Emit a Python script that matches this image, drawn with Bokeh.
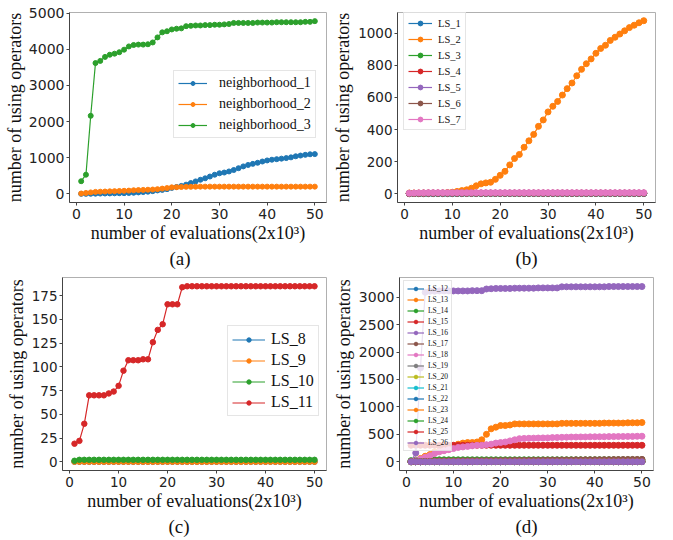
import math
from bokeh.plotting import figure
from bokeh.models import Range1d, FixedTicker, Legend, LegendItem, Title
from bokeh.layouts import column, row
from bokeh.embed import file_html
from bokeh.resources import INLINE

# ---------------- data ----------------
evals = [1, 2, 3, 4, 5, 6, 7, 8, 9, 10, 11, 12, 13, 14, 15, 16, 17, 18, 19, 20,
         21, 22, 23, 24, 25, 26, 27, 28, 29, 30, 31, 32, 33, 34, 35, 36, 37, 38, 39, 40,
         41, 42, 43, 44, 45, 46, 47, 48, 49, 50]
x_ticks = [0, 10, 20, 30, 40, 50]

# (a)
neighborhood_1 = [0, 0, 2, 5, 8, 10, 12, 15, 18, 20, 25, 30, 40, 50, 60, 75, 95, 110, 130, 165,
                  190, 220, 255, 300, 345, 390, 430, 480, 530, 570, 590, 620, 660, 710, 760, 800, 830, 860, 895, 925,
                  945, 960, 975, 990, 1010, 1040, 1060, 1080, 1095, 1100]
neighborhood_2 = [10, 25, 40, 55, 60, 65, 70, 75, 80, 85, 90, 100, 105, 110, 115, 120, 130, 145, 160, 180,
                  185, 190, 195, 195, 198, 200, 200, 200, 200, 200, 200, 200, 200, 200, 200, 200, 200, 200, 200, 200,
                  200, 200, 200, 200, 200, 200, 200, 200, 200, 200]
neighborhood_3 = [350, 530, 2160, 3620, 3680, 3790, 3850, 3880, 3920, 3990, 4080, 4120, 4130, 4130, 4140, 4190, 4330, 4470, 4500, 4550,
                  4570, 4580, 4640, 4650, 4660, 4660, 4670, 4670, 4680, 4680, 4690, 4700, 4730, 4730, 4730, 4730, 4730, 4740, 4740, 4740,
                  4740, 4750, 4750, 4750, 4750, 4750, 4750, 4760, 4760, 4780]
a_names = ["neighborhood_1", "neighborhood_2", "neighborhood_3"]
a_ticks = [0, 1000, 2000, 3000, 4000, 5000]

# (b)
LS_1 = [1, 1, 1, 1, 1, 1, 1, 1, 1, 1, 1, 1, 2, 2, 2, 2, 2, 2, 2, 2, 2, 2, 2, 2, 2,
        2, 2, 2, 2, 2, 2, 2, 2, 2, 2, 2, 2, 2, 2, 2, 2, 2, 2, 2, 2, 2, 2, 2, 2, 2]
LS_2 = [5, 5, 5, 5, 5, 5, 5, 5, 8, 10, 15, 20, 25, 35, 50, 62, 68, 72, 90, 115,
        140, 180, 220, 245, 290, 330, 370, 420, 460, 510, 545, 575, 615, 655, 690, 735, 775, 810, 840, 875,
        905, 925, 955, 975, 995, 1015, 1035, 1050, 1065, 1078]
LS_3 = [2, 2, 2, 3, 3, 3, 3, 3, 3, 3, 3, 3, 3, 3, 3, 3, 3, 3, 3, 3, 3, 3, 3, 3, 3,
        3, 3, 3, 3, 3, 3, 3, 3, 3, 3, 3, 3, 3, 3, 3, 3, 3, 3, 3, 3, 3, 3, 3, 3, 3]
LS_4 = [3, 4, 4, 5, 5, 5, 5, 5, 5, 5, 5, 5, 5, 5, 5, 5, 5, 5, 5, 5, 5, 5, 5, 5, 5,
        5, 5, 5, 5, 5, 5, 5, 5, 5, 5, 5, 5, 5, 5, 5, 5, 5, 5, 5, 5, 5, 5, 5, 5, 5]
LS_5 = [2, 3, 3, 4, 4, 4, 4, 4, 4, 4, 4, 4, 4, 4, 4, 4, 4, 4, 4, 4, 4, 4, 4, 4, 4,
        4, 4, 4, 4, 4, 4, 4, 4, 4, 4, 4, 4, 4, 4, 4, 4, 4, 4, 4, 4, 4, 4, 4, 4, 4]
LS_6 = [1, 2, 2, 2, 3, 3, 3, 3, 3, 3, 3, 3, 3, 3, 3, 3, 3, 3, 3, 3, 3, 3, 3, 3, 3,
        3, 3, 3, 3, 3, 3, 3, 3, 3, 3, 3, 3, 3, 3, 3, 3, 3, 3, 3, 3, 3, 3, 3, 3, 3]
LS_7 = [4, 5, 6, 6, 7, 7, 7, 7, 7, 7, 7, 7, 7, 7, 7, 7, 7, 7, 7, 7, 7, 7, 7, 7, 7,
        7, 7, 7, 7, 7, 7, 7, 7, 7, 7, 7, 7, 7, 7, 7, 7, 7, 7, 7, 7, 7, 7, 7, 7, 7]
b_names = ["LS_1", "LS_2", "LS_3", "LS_4", "LS_5", "LS_6", "LS_7"]
b_ticks = [0, 200, 400, 600, 800, 1000]

# (c)
LS_8 = [0, 0, 0, 0, 0, 0, 0, 0, 0, 0, 0, 0, 0, 0, 0, 0, 0, 0, 0, 0, 0, 0, 0, 0, 0,
        0, 0, 0, 0, 0, 0, 0, 0, 0, 0, 0, 0, 0, 0, 0, 0, 0, 0, 0, 0, 0, 0, 0, 0, 0]
LS_9 = [0, 0, 0, 0, 0, 0, 0, 0, 0, 0, 0, 0, 0, 0, 0, 0, 0, 0, 0, 0, 0, 0, 0, 0, 0,
        0, 0, 0, 0, 0, 0, 0, 0, 0, 0, 0, 0, 0, 0, 0, 0, 0, 0, 0, 0, 0, 0, 0, 0, 0]
LS_10 = [1, 2, 2, 2, 2, 2, 2, 2, 2, 2, 2, 2, 2, 2, 2, 2, 2, 2, 2, 2, 2, 2, 2, 2, 2,
         2, 2, 2, 2, 2, 2, 2, 2, 2, 2, 2, 2, 2, 2, 2, 2, 2, 2, 2, 2, 2, 2, 2, 2, 2]
LS_11 = [19, 22, 40, 70, 70, 70, 70, 72, 74, 80, 96, 107, 107, 107, 108, 108, 126, 139, 145, 166,
         166, 166, 184, 185, 185, 185, 185, 185, 185, 185, 185, 185, 185, 185, 185, 185, 185, 185, 185, 185,
         185, 185, 185, 185, 185, 185, 185, 185, 185, 185]
c_names = ["LS_8", "LS_9", "LS_10", "LS_11"]
c_ticks = [0, 25, 50, 75, 100, 125, 150, 175]

# (d)
LS_12 = [0, 1, 1, 1, 1, 2, 2, 2, 2, 2, 2, 2, 2, 2, 2, 2, 2, 2, 2, 2, 2, 2, 2, 2, 2,
         2, 2, 2, 2, 2, 2, 2, 2, 2, 2, 2, 2, 2, 2, 2, 2, 2, 2, 2, 2, 2, 2, 2, 2, 2]
LS_13 = [0, 30, 60, 100, 130, 180, 200, 210, 230, 280, 320, 340, 350, 350, 360, 400, 500, 600, 630, 660,
         660, 670, 690, 690, 690, 690, 690, 690, 690, 690, 690, 690, 700, 700, 700, 700, 700, 700, 700, 700,
         700, 705, 705, 705, 705, 705, 710, 710, 710, 715]
LS_14 = [20, 30, 35, 35, 35, 35, 35, 35, 35, 35, 35, 35, 35, 35, 35, 35, 35, 35, 35, 35, 35, 35, 35, 35, 35,
         35, 35, 35, 35, 35, 35, 35, 35, 35, 35, 35, 35, 35, 35, 35, 35, 35, 35, 35, 35, 35, 35, 35, 35, 35]
LS_15 = [300, 300, 300, 300, 300, 300, 300, 300, 300, 300, 300, 300, 300, 300, 300, 300, 300, 300, 300, 300,
         300, 300, 300, 300, 300, 300, 300, 300, 300, 300, 300, 300, 300, 300, 300, 300, 300, 300, 300, 300,
         300, 300, 300, 300, 300, 300, 300, 300, 300, 300]
LS_16 = [0, 160, 1710, 3090, 3110, 3110, 3115, 3115, 3115, 3115, 3115, 3115, 3115, 3120, 3120, 3120, 3150, 3155, 3160, 3160,
         3160, 3160, 3165, 3165, 3165, 3165, 3165, 3170, 3170, 3170, 3170, 3170, 3190, 3190, 3190, 3190, 3190, 3190, 3190, 3190,
         3190, 3190, 3195, 3195, 3195, 3195, 3195, 3195, 3195, 3195]
LS_17 = [5, 8, 10, 12, 12, 14, 15, 15, 16, 16, 17, 18, 18, 19, 20, 20, 21, 22, 22, 23, 24, 24, 25, 26, 26,
         27, 28, 28, 29, 30, 30, 31, 32, 32, 33, 34, 34, 35, 36, 36, 37, 38, 38, 39, 40, 40, 41, 42, 42, 43]
LS_18 = [0, 20, 50, 80, 110, 150, 180, 200, 220, 240, 260, 270, 280, 290, 300, 300, 310, 320, 340, 350,
         360, 380, 400, 420, 425, 428, 430, 432, 434, 435, 440, 442, 445, 447, 450, 450, 452, 452, 454, 455,
         455, 456, 458, 458, 460, 460, 462, 462, 464, 465]
LS_19 = [0, 0, 1, 1, 1, 1, 1, 1, 1, 1, 1, 1, 1, 1, 1, 1, 1, 1, 1, 1, 1, 1, 1, 1, 1,
         1, 1, 1, 1, 1, 1, 1, 1, 1, 1, 1, 1, 1, 1, 1, 1, 1, 1, 1, 1, 1, 1, 1, 1, 1]
LS_20 = [0, 0, 0, 1, 1, 1, 1, 1, 1, 1, 1, 1, 1, 1, 1, 1, 1, 1, 1, 1, 1, 1, 1, 1, 1,
         1, 1, 1, 1, 1, 1, 1, 1, 1, 1, 1, 1, 1, 1, 1, 1, 1, 1, 1, 1, 1, 1, 1, 1, 1]
LS_21 = [0, 0, 0, 0, 1, 1, 1, 1, 1, 1, 1, 1, 1, 1, 1, 1, 1, 1, 1, 1, 1, 1, 1, 1, 1,
         1, 1, 1, 1, 1, 1, 1, 1, 1, 1, 1, 1, 1, 1, 1, 1, 1, 1, 1, 1, 1, 1, 1, 1, 1]
LS_22 = [0, 1, 2, 2, 3, 3, 3, 3, 3, 3, 3, 3, 3, 3, 3, 3, 3, 3, 3, 3, 3, 3, 3, 3, 3,
         3, 3, 3, 3, 3, 3, 3, 3, 3, 3, 3, 3, 3, 3, 3, 3, 3, 3, 3, 3, 3, 3, 3, 3, 3]
LS_23 = [0, 2, 4, 5, 6, 6, 6, 6, 6, 6, 6, 6, 6, 6, 6, 6, 6, 6, 6, 6, 6, 6, 6, 6, 6,
         6, 6, 6, 6, 6, 6, 6, 6, 6, 6, 6, 6, 6, 6, 6, 6, 6, 6, 6, 6, 6, 6, 6, 6, 6]
LS_24 = [0, 2, 3, 4, 4, 4, 4, 4, 4, 4, 4, 4, 4, 4, 4, 4, 4, 4, 4, 4, 4, 4, 4, 4, 4,
         4, 4, 4, 4, 4, 4, 4, 4, 4, 4, 4, 4, 4, 4, 4, 4, 4, 4, 4, 4, 4, 4, 4, 4, 4]
LS_25 = [0, 1, 1, 2, 2, 2, 2, 2, 2, 2, 2, 2, 2, 2, 2, 2, 2, 2, 2, 2, 2, 2, 2, 2, 2,
         2, 2, 2, 2, 2, 2, 2, 2, 2, 2, 2, 2, 2, 2, 2, 2, 2, 2, 2, 2, 2, 2, 2, 2, 2]
LS_26 = [0, 0, 0, 0, 0, 0, 0, 0, 0, 0, 0, 0, 0, 0, 0, 0, 0, 0, 0, 0, 0, 0, 0, 0, 0,
         0, 0, 0, 0, 0, 0, 0, 0, 0, 0, 0, 0, 0, 0, 0, 0, 0, 0, 0, 0, 0, 0, 0, 0, 0]
d_names = ["LS_12", "LS_13", "LS_14", "LS_15", "LS_16", "LS_17", "LS_18", "LS_19",
           "LS_20", "LS_21", "LS_22", "LS_23", "LS_24", "LS_25", "LS_26"]
d_ticks = [0, 500, 1000, 1500, 2000, 2500, 3000]

x_title = "number of evaluations(2x10\u00b3)"
y_title = "number of using operators"
captions = ["(a)", "(b)", "(c)", "(d)"]

PALETTE = ["#1f77b4", "#ff7f0e", "#2ca02c", "#d62728", "#9467bd",
           "#8c564b", "#e377c2", "#7f7f7f", "#bcbd22", "#17becf"]

SERIF = "Liberation Serif"
SANS = "DejaVu Sans"


def panel(w, h, borders, yr, yticks, tick_fs, series, names, msize, leg, caption, cap_align,
          cap_off, ylab_standoff):
    left, right, top, bottom = borders
    p = figure(width=w, height=h, output_backend="svg", toolbar_location=None, title=None,
               x_range=Range1d(-1.45, 52.45), y_range=Range1d(*yr),
               min_border_left=left, min_border_right=right,
               min_border_top=top, min_border_bottom=bottom)
    p.background_fill_color = "white"
    p.border_fill_color = "white"
    p.outline_line_color = "#b0b0b0"
    p.xgrid.visible = False
    p.ygrid.visible = False
    p.xaxis.ticker = FixedTicker(ticks=x_ticks)
    p.yaxis.ticker = FixedTicker(ticks=yticks)
    for ax in (p.xaxis[0], p.yaxis[0]):
        ax.axis_line_color = "#444444"
        ax.major_tick_line_color = "#444444"
        ax.major_tick_in = 0
        ax.major_tick_out = 3
        ax.minor_tick_line_color = None
        ax.major_label_text_font = SANS
        ax.major_label_text_font_size = tick_fs
        ax.major_label_text_color = "#222222"
        ax.axis_label_text_font = SERIF
        ax.axis_label_text_font_size = "18px"
        ax.axis_label_text_font_style = "normal"
        ax.axis_label_text_color = "#111111"
    p.xaxis.major_label_standoff = 3
    p.yaxis.major_label_standoff = 2
    p.xaxis.axis_label = x_title
    p.xaxis.axis_label_standoff = 1
    p.yaxis.axis_label = y_title
    p.yaxis.axis_label_standoff = ylab_standoff
    items = []
    for i, (vals, name) in enumerate(zip(series, names)):
        c = PALETTE[i % 10]
        lr = p.line(evals, vals, line_color=c, line_width=1.2)
        sr = p.scatter(evals, vals, size=msize, fill_color=c, line_color=c, line_width=1)
        items.append(LegendItem(label=name, renderers=[lr, sr]))
    lg = Legend(items=items, location=leg["loc"], margin=0, padding=leg["pad"],
                spacing=leg["spacing"], glyph_width=leg["gw"], glyph_height=leg["gh"],
                label_height=leg["lh"], label_standoff=leg["stand"],
                label_text_font=SERIF, label_text_font_size=leg["fs"],
                label_text_color="#111111",
                border_line_color="#cccccc", border_line_width=1,
                background_fill_color="white", background_fill_alpha=0.8)
    p.add_layout(lg, "center")
    cap = Title(text=caption, align=cap_align, offset=cap_off, standoff=0,
                text_font=SERIF, text_font_size="19px", text_font_style="normal",
                text_color="#111111")
    p.add_layout(cap, "below")
    return p


pa = panel(330, 270, (69, 4, 12, 67), (-239, 5019), a_ticks, "14px",
           [neighborhood_1, neighborhood_2, neighborhood_3], a_names, 5,
           dict(loc=(104, 64), pad=4, spacing=5, gw=29, gh=10, lh=16, stand=12, fs="14px"),
           captions[0], "left", 100, 1)
pb = panel(343, 270, (63, 18, 9, 68), (-54, 1129), b_ticks, "13.5px",
           [LS_1, LS_2, LS_3, LS_4, LS_5, LS_6, LS_7], b_names, 6,
           dict(loc=(6, 72), pad=4, spacing=4, gw=24, gh=12, lh=12, stand=6, fs="10.5px"),
           captions[1], "center", 0, 2)
pc = panel(330, 269, (62, 4, 3, 69), (-9.25, 194.25), c_ticks, "13.5px",
           [LS_8, LS_9, LS_10, LS_11], c_names, 5.5,
           dict(loc=(165, 54), pad=4, spacing=3, gw=33, gh=11, lh=18, stand=6, fs="16px"),
           captions[2], "left", 106, 2)
pd_ = panel(343, 269, (63, 20, 7, 69), (-160, 3360), d_ticks, "14px",
            [LS_12, LS_13, LS_14, LS_15, LS_16, LS_17, LS_18, LS_19, LS_20, LS_21,
             LS_22, LS_23, LS_24, LS_25, LS_26], d_names, 6,
            dict(loc=(4, 19), pad=3, spacing=2, gw=17, gh=9, lh=9, stand=4, fs="7.5px"),
            captions[3], "center", 0, 2)

layout = column(row(pa, pb), row(pc, pd_))
open("out.html", "w").write(file_html(layout, INLINE))
